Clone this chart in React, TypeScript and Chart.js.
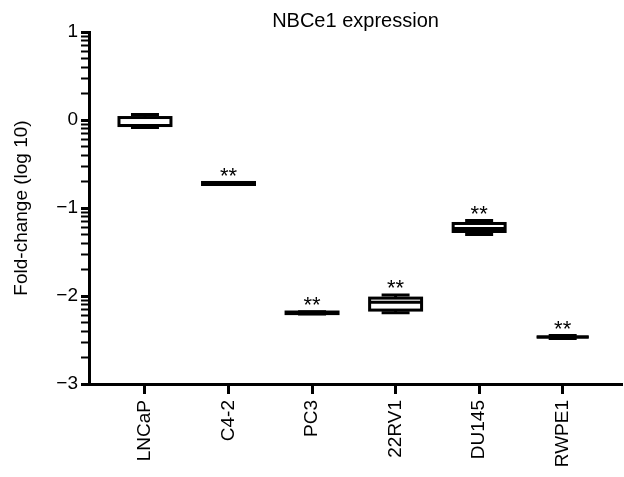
import React, { useEffect, useRef } from 'react';
import { Chart, registerables } from 'chart.js';

Chart.register(...registerables);

const categories = ['LNCaP', 'C4-2', 'PC3', '22RV1', 'DU145', 'RWPE1'];
const whiskerMax = [0.062, -0.71, -2.178, -1.99, -1.142, -2.45];
const boxQ3 = [0.028, -0.71, -2.182, -2.024, -1.176, -2.466];
const medians = [-0.063, -0.72, -2.19, -2.07, -1.233, -2.466];
const boxQ1 = [-0.063, -0.733, -2.2, -2.16, -1.267, -2.466];
const whiskerMin = [-0.085, -0.733, -2.205, -2.19, -1.301, -2.483];
const marks = ['', '**', '**', '**', '**', '**'];
const yMin = -3;
const yMax = 1;
const chartTitle = 'NBCe1 expression';
const yTitle = 'Fold-change (log 10)';

const FONT = '"Liberation Sans", Arial, Helvetica, sans-serif';
const BOX_WIDTH = 0.622;
const CAP_WIDTH = 0.335;

const isMajor = (v: number) => Math.abs(v - Math.round(v)) < 1e-9;
const fmt = (v: number) => {
  const r = Math.round(v);
  return r < 0 ? '\u2212' + Math.abs(r) : String(r);
};

const boxPlugin = {
  id: 'boxplots',
  afterDatasetsDraw(chart: any) {
    const { ctx, chartArea } = chart;
    const x = chart.scales.x;
    const y = chart.scales.y;
    ctx.save();
    ctx.strokeStyle = '#000';
    ctx.lineWidth = 3;
    ctx.lineCap = 'butt';
    categories.forEach((_, i) => {
      const xc = x.getPixelForValue(i);
      const hw = x.getPixelForValue(i + BOX_WIDTH / 2) - xc;
      const cw = x.getPixelForValue(i + CAP_WIDTH / 2) - xc;
      const pMax = y.getPixelForValue(whiskerMax[i]);
      const pQ3 = y.getPixelForValue(boxQ3[i]);
      const pMed = y.getPixelForValue(medians[i]);
      const pQ1 = y.getPixelForValue(boxQ1[i]);
      const pMin = y.getPixelForValue(whiskerMin[i]);
      ctx.beginPath();
      ctx.moveTo(xc, pQ3);
      ctx.lineTo(xc, pMax);
      ctx.moveTo(xc, pQ1);
      ctx.lineTo(xc, pMin);
      ctx.moveTo(xc - cw, pMax);
      ctx.lineTo(xc + cw, pMax);
      ctx.moveTo(xc - cw, pMin);
      ctx.lineTo(xc + cw, pMin);
      ctx.stroke();
      ctx.fillStyle = '#fff';
      ctx.fillRect(xc - hw, pQ3, 2 * hw, pQ1 - pQ3);
      ctx.strokeRect(xc - hw, pQ3, 2 * hw, pQ1 - pQ3);
      ctx.beginPath();
      ctx.moveTo(xc - hw, pMed);
      ctx.lineTo(xc + hw, pMed);
      ctx.stroke();
      if (marks[i]) {
        const fs = 22;
        ctx.fillStyle = '#000';
        ctx.font = `${fs}px ${FONT}`;
        ctx.textAlign = 'center';
        ctx.textBaseline = 'alphabetic';
        const center = pMax - 1.5 - 11;
        ctx.fillText(marks[i], xc, center + 0.57 * fs);
      }
    });
    ctx.fillStyle = '#000';
    ctx.font = `20px ${FONT}`;
    ctx.textAlign = 'center';
    ctx.textBaseline = 'alphabetic';
    ctx.fillText(chartTitle, (chartArea.left + chartArea.right) / 2, 27);
    ctx.restore();
  },
};

export default function App() {
  const ref = useRef<HTMLCanvasElement | null>(null);
  useEffect(() => {
    if (!ref.current) return;
    const chart = new Chart(ref.current, {
      type: 'scatter',
      data: { datasets: [] },
      options: {
        animation: false,
        responsive: true,
        maintainAspectRatio: false,
        layout: { padding: { top: 32, right: 2, left: 0, bottom: 0 } },
        plugins: {
          legend: { display: false },
          tooltip: { enabled: false },
          title: { display: false },
        },
        scales: {
          x: {
            type: 'linear',
            min: -0.67,
            max: 5.71,
            afterBuildTicks: (s: any) => {
              s.ticks = categories.map((_, i) => ({ value: i }));
            },
            afterFit: (s: any) => {
              s.height = 93;
            },
            ticks: {
              autoSkip: false,
              minRotation: 90,
              maxRotation: 90,
              padding: 6,
              color: '#000',
              font: { family: FONT, size: 19 },
              callback: (v: any) => categories[Math.round(Number(v))] ?? '',
            },
            grid: {
              drawOnChartArea: false,
              drawTicks: true,
              tickLength: 10,
              tickWidth: 3,
              tickColor: '#000',
            },
            border: { display: true, color: '#000', width: 3 },
          },
          y: {
            type: 'linear',
            min: yMin,
            max: yMax,
            afterBuildTicks: (s: any) => {
              const t: any[] = [];
              for (let d = yMin; d < yMax; d++) {
                t.push({ value: d });
                for (let k = 2; k <= 9; k++) t.push({ value: d + Math.log10(k) });
              }
              t.push({ value: yMax });
              s.ticks = t;
            },
            afterFit: (s: any) => {
              s.width = 89;
            },
            ticks: {
              autoSkip: false,
              padding: 3,
              color: '#000',
              font: { family: FONT, size: 19 },
              callback: (v: any) => (isMajor(Number(v)) ? fmt(Number(v)) : ''),
            },
            grid: {
              drawOnChartArea: false,
              drawTicks: true,
              tickLength: 8,
              tickWidth: (c: any) => (c.tick && isMajor(c.tick.value) ? 3 : 2),
              tickColor: '#000',
            },
            border: { display: true, color: '#000', width: 3 },
            title: {
              display: true,
              text: yTitle,
              color: '#000',
              font: { family: FONT, size: 19 },
              padding: { top: 10, bottom: 0 },
            },
          },
        },
      },
      plugins: [boxPlugin],
    } as any);
    return () => chart.destroy();
  }, []);
  return (
    <div style={{ position: 'absolute', left: 0, top: 0, width: 624, height: 477 }}>
      <canvas ref={ref} />
    </div>
  );
}
